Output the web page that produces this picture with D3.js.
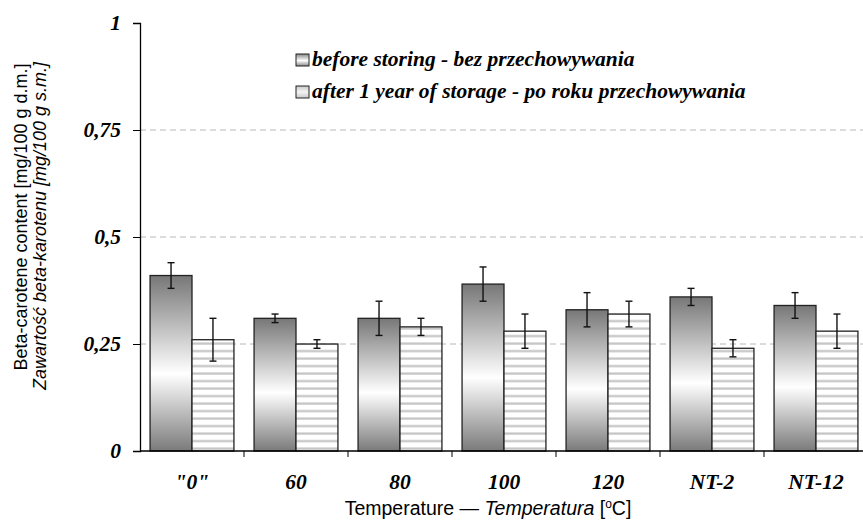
<!DOCTYPE html>
<html>
<head>
<meta charset="utf-8">
<script src="https://cdn.jsdelivr.net/npm/d3@7"></script>
<style>
  body { margin: 0; background: #fff; }
  svg { display: block; }
</style>
</head>
<body>
<div id="chart"></div>
<script>
// dane
const categories = ['"0"', '60', '80', '100', '120', 'NT-2', 'NT-12'];
const beforeValues = [0.41, 0.31, 0.31, 0.39, 0.33, 0.36, 0.34];
const beforeErrors = [0.03, 0.01, 0.04, 0.04, 0.04, 0.02, 0.03];
const afterValues = [0.26, 0.25, 0.29, 0.28, 0.32, 0.24, 0.28];
const afterErrors = [0.05, 0.01, 0.02, 0.04, 0.03, 0.02, 0.04];
const yTicks = [0, 0.25, 0.5, 0.75, 1];
const seriesNames = ['before storing - bez przechowywania', 'after 1 year of storage - po roku przechowywania'];

const width = 863, height = 521;
const margin = { top: 23, left: 140 };
const plotRight = 868;   // ostatnia kategoria wychodzi poza kadr
const plotBottom = 451;
const serif = '"Liberation Serif", "Times New Roman", serif';
const sans = '"Liberation Sans", Arial, sans-serif';

const svg = d3.select('#chart').append('svg')
    .attr('width', width)
    .attr('height', height);

const defs = svg.append('defs');

// gradient ciemnych słupków
const grad = defs.append('linearGradient')
    .attr('id', 'darkGrad')
    .attr('x1', 0).attr('y1', 0).attr('x2', 0).attr('y2', 1);
grad.append('stop').attr('offset', '0%').attr('stop-color', '#777');
grad.append('stop').attr('offset', '56%').attr('stop-color', '#fff');
grad.append('stop').attr('offset', '100%').attr('stop-color', '#7a7a7a');

const legGrad = defs.append('linearGradient')
    .attr('id', 'legGrad')
    .attr('x1', 0).attr('y1', 0).attr('x2', 0).attr('y2', 1);
legGrad.append('stop').attr('offset', '0%').attr('stop-color', '#888');
legGrad.append('stop').attr('offset', '55%').attr('stop-color', '#fff');
legGrad.append('stop').attr('offset', '100%').attr('stop-color', '#888');

// paski dla jasnych słupków
const stripes = defs.append('pattern')
    .attr('id', 'stripes')
    .attr('patternUnits', 'userSpaceOnUse')
    .attr('width', 10).attr('height', 7.5);
stripes.append('rect').attr('width', 10).attr('height', 7.5).attr('fill', '#fff');
stripes.append('rect').attr('y', 5).attr('width', 10).attr('height', 2.2).attr('fill', '#c4c4c4');

const legLight = defs.append('linearGradient')
    .attr('id', 'legLight')
    .attr('x1', 0).attr('y1', 0).attr('x2', 0).attr('y2', 1);
legLight.append('stop').attr('offset', '0%').attr('stop-color', '#c8c8c8');
legLight.append('stop').attr('offset', '50%').attr('stop-color', '#f4f4f4');
legLight.append('stop').attr('offset', '100%').attr('stop-color', '#c8c8c8');

const x0 = d3.scaleBand()
    .domain(categories)
    .range([margin.left, plotRight])
    .padding(0);

const x1 = d3.scaleBand()
    .domain([0, 1])
    .range([0, x0.bandwidth()])
    .paddingOuter(0.24)
    .paddingInner(0);

const y = d3.scaleLinear()
    .domain([0, 1])
    .range([plotBottom, margin.top]);

// linie siatki
svg.append('g')
    .selectAll('line')
    .data(yTicks.filter(d => d > 0 && d < 1))
    .join('line')
    .attr('x1', margin.left)
    .attr('x2', width)
    .attr('y1', d => y(d))
    .attr('y2', d => y(d))
    .attr('stroke', '#b8b8b8')
    .attr('stroke-width', 1)
    .attr('stroke-dasharray', '6,4');

// słupki
const rows = categories.map((c, i) => ({
    cat: c,
    vals: [
        { s: 0, v: beforeValues[i], e: beforeErrors[i] },
        { s: 1, v: afterValues[i], e: afterErrors[i] }
    ]
}));

const groups = svg.append('g')
    .selectAll('g')
    .data(rows)
    .join('g')
    .attr('transform', d => `translate(${x0(d.cat)},0)`);

groups.selectAll('rect')
    .data(d => d.vals)
    .join('rect')
    .attr('x', d => x1(d.s))
    .attr('y', d => y(d.v))
    .attr('width', x1.bandwidth())
    .attr('height', d => y(0) - y(d.v))
    .attr('fill', d => d.s === 0 ? 'url(#darkGrad)' : 'url(#stripes)')
    .attr('stroke', '#222')
    .attr('stroke-width', 1.3);

// słupki błędów
const err = groups.selectAll('g.err')
    .data(d => d.vals)
    .join('g')
    .attr('class', 'err')
    .attr('stroke', '#111')
    .attr('stroke-width', 1.4);

err.append('line')
    .attr('x1', d => x1(d.s) + x1.bandwidth() / 2)
    .attr('x2', d => x1(d.s) + x1.bandwidth() / 2)
    .attr('y1', d => y(d.v + d.e))
    .attr('y2', d => y(d.v - d.e));
[1, -1].forEach(sign => {
    err.append('line')
        .attr('x1', d => x1(d.s) + x1.bandwidth() / 2 - 3.5)
        .attr('x2', d => x1(d.s) + x1.bandwidth() / 2 + 3.5)
        .attr('y1', d => y(d.v + sign * d.e))
        .attr('y2', d => y(d.v + sign * d.e));
});

// oś Y
const yAxis = svg.append('g')
    .attr('transform', `translate(${margin.left},0)`)
    .call(d3.axisLeft(y).tickValues(yTicks).tickSize(7).tickPadding(12)
        .tickFormat(d => String(d).replace('.', ',')));
yAxis.select('.domain').attr('stroke', '#000').attr('stroke-width', 1.3);
yAxis.selectAll('.tick line').attr('stroke', '#000');
yAxis.selectAll('text')
    .attr('font-family', serif)
    .attr('font-size', 21.5)
    .attr('font-weight', 'bold')
    .attr('font-style', 'italic')
    .attr('fill', '#000');

// oś X
svg.append('line')
    .attr('x1', margin.left).attr('x2', width)
    .attr('y1', plotBottom).attr('y2', plotBottom)
    .attr('stroke', '#000').attr('stroke-width', 1.3);

svg.append('g')
    .selectAll('line')
    .data(categories.slice(1))
    .join('line')
    .attr('x1', d => x0(d)).attr('x2', d => x0(d))
    .attr('y1', plotBottom).attr('y2', plotBottom + 6)
    .attr('stroke', '#000');

svg.append('g')
    .selectAll('text')
    .data(categories)
    .join('text')
    .attr('x', d => x0(d) + x0.bandwidth() / 2)
    .attr('y', 489)
    .attr('text-anchor', 'middle')
    .attr('font-family', serif)
    .attr('font-size', 21.5)
    .attr('font-weight', 'bold')
    .attr('font-style', 'italic')
    .text(d => d);

// tytuł osi X
const xt = svg.append('text')
    .attr('x', 488)
    .attr('y', 515)
    .attr('text-anchor', 'middle')
    .attr('font-family', sans)
    .attr('font-size', 19.5);
xt.append('tspan').text('Temperature \u2014 ');
xt.append('tspan').attr('font-style', 'italic').text('Temperatura');
xt.append('tspan').text(' [');
xt.append('tspan').attr('font-size', 12).attr('dy', -7).text('o');
xt.append('tspan').attr('dy', 7).text('C]');

// tytuł osi Y
const yt = svg.append('g').attr('transform', 'rotate(-90)');
yt.append('text')
    .attr('x', -217).attr('y', 27)
    .attr('text-anchor', 'middle')
    .attr('font-family', sans)
    .attr('font-size', 18)
    .text('Beta-carotene content [mg/100 g d.m.]');
yt.append('text')
    .attr('x', -226).attr('y', 46)
    .attr('text-anchor', 'middle')
    .attr('font-family', sans)
    .attr('font-size', 18)
    .attr('font-style', 'italic')
    .text('Zawartość beta-karotenu [mg/100 g s.m.]');

// legenda
const legend = svg.append('g').attr('transform', 'translate(296,54)');
seriesNames.forEach((name, i) => {
    const row = legend.append('g').attr('transform', `translate(0,${i * 32})`);
    row.append('rect')
        .attr('width', 13).attr('height', 12)
        .attr('fill', i === 0 ? 'url(#legGrad)' : 'url(#legLight)')
        .attr('stroke', '#222').attr('stroke-width', 1);
    row.append('text')
        .attr('x', 16).attr('y', 12)
        .attr('font-family', serif)
        .attr('font-size', 21.5)
        .attr('font-weight', 'bold')
        .attr('font-style', 'italic')
        .text(name);
});
</script>
</body>
</html>
